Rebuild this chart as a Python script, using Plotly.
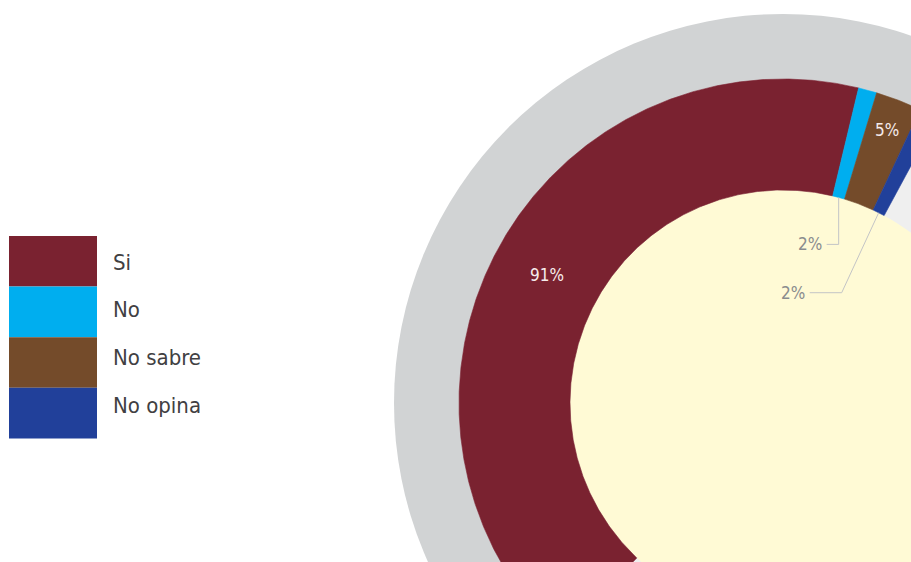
import numpy as np
import plotly.graph_objects as go

# ---------------- data ----------------
categories = ["Si", "No", "No sabre", "No opina"]
values = [91, 2, 5, 2]
label_text = ["91%", "2%", "5%", "2%"]

# ---------------- style ----------------
colors = ["#7a2230", "#00aeef", "#744b2a", "#21409a"]
W, H = 911, 562
CX, CY = 783, 403             # ring centre (axis units == screen pixels)
R_OUT, R_RING, R_IN = 389, 324, 213
SWEEP = 165.0                 # degrees spanned by 100 %
SPLIT = 13.5                  # angle (clockwise from 12 o'clock) where "Si" meets "No"
FONT = "Liberation Sans Narrow, DejaVu Sans Condensed, Arial Narrow, sans-serif"

deg_per = SWEEP / sum(values)
start = SPLIT - values[0] * deg_per
bounds = start + np.concatenate([[0], np.cumsum(values)]) * deg_per


def pt(r, theta):
    t = np.radians(theta)
    return CX + r * np.sin(t), CY - r * np.cos(t)


fig = go.Figure()

shapes = []
# background discs: outer grey halo, light track, cream centre
for r, c in [(R_OUT, "#d1d3d4"), (R_RING, "#efefef"), (R_IN, "#fffad5")]:
    shapes.append(dict(type="circle", xref="x", yref="y", layer="below",
                       x0=CX - r, x1=CX + r, y0=CY - r, y1=CY + r,
                       fillcolor=c, line=dict(width=0)))

# slices (annular sectors)
for i, cat in enumerate(categories):
    a0, a1 = bounds[i], bounds[i + 1]
    th = np.linspace(a0, a1, max(8, int(abs(a1 - a0) * 3)))
    xo, yo = pt(R_RING, th)
    xi, yi = pt(R_IN, th[::-1])
    xs = np.concatenate([xo, xi, xo[:1]])
    ys = np.concatenate([yo, yi, yo[:1]])
    fig.add_trace(go.Scatter(x=xs, y=ys, mode="lines", fill="toself",
                             fillcolor=colors[i], line=dict(color=colors[i], width=0.6),
                             hoverinfo="skip", name=cat, showlegend=False))

annotations = []
# labels inside slices
inside = {0: 268.5, 2: 292}
for i, r in inside.items():
    mid = (bounds[i] + bounds[i + 1]) / 2
    x, y = pt(r, mid)
    annotations.append(dict(x=x, y=y, xref="x", yref="y", text=label_text[i],
                            showarrow=False, font=dict(family=FONT, size=17, color="#f6ecec"),
                            xanchor="center", yanchor="middle"))

# labels outside with leader lines: (elbow dx, elbow dy, horizontal run)
outside = {1: (0, 47, 12), 3: (-37, 80, 32)}
for i, (edx, edy, run) in outside.items():
    mid = (bounds[i] + bounds[i + 1]) / 2
    ax, ay = pt(R_IN, mid)
    ex, ey = ax + edx, ay + edy
    lx = ex - run
    fig.add_trace(go.Scatter(x=[ax, ex, lx], y=[ay, ey, ey], mode="lines",
                             line=dict(color="#c3c4c6", width=1), hoverinfo="skip",
                             showlegend=False))
    annotations.append(dict(x=lx - 3, y=ey, xref="x", yref="y", text=label_text[i],
                            showarrow=False, font=dict(family=FONT, size=17, color="#8a8c8e"),
                            xanchor="right", yanchor="middle"))

# legend (large swatches)
LEG_X0, LEG_X1, LEG_Y0, LEG_H = 9, 97, 236, 50.6
TXT_X, TXT_Y0, TXT_DY = 111, 262, 47.7
for i, cat in enumerate(categories):
    shapes.append(dict(type="rect", xref="x", yref="y", layer="above",
                       x0=LEG_X0, x1=LEG_X1, y0=LEG_Y0 + i * LEG_H, y1=LEG_Y0 + (i + 1) * LEG_H,
                       fillcolor=colors[i], line=dict(width=0)))
    annotations.append(dict(x=TXT_X, y=TXT_Y0 + i * TXT_DY, xref="x", yref="y", text=cat,
                            showarrow=False, font=dict(family=FONT, size=22, color="#414042"),
                            xanchor="left", yanchor="middle"))

fig.update_layout(
    width=W, height=H,
    margin=dict(l=0, r=0, t=0, b=0),
    paper_bgcolor="white", plot_bgcolor="white",
    xaxis=dict(range=[0, W], visible=False, fixedrange=True),
    yaxis=dict(range=[H, 0], visible=False, fixedrange=True),
    shapes=shapes, annotations=annotations, showlegend=False,
)

fig.write_html(
    "out.html",
    config={"displayModeBar": False},
    post_script="document.body.style.margin='0';document.body.style.overflow='hidden';",
)
